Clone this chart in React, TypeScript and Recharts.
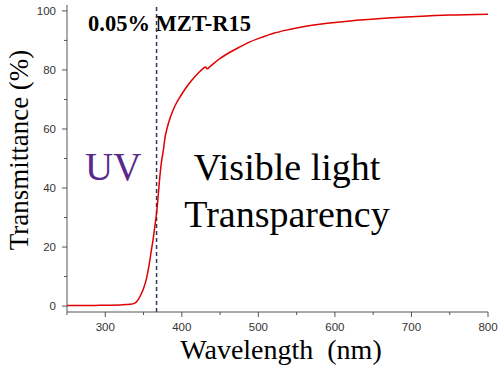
import { LineChart, Line, XAxis, YAxis, ReferenceLine } from "recharts";

const wavelength = [
  250, 280, 300, 320, 333, 338, 342, 346, 350, 354, 357, 360, 363, 365, 367,
  369, 371, 373, 376, 378, 381, 385, 391, 398, 405, 413, 421, 428, 431, 433,
  437, 450, 463, 476, 489, 505, 520, 535, 555, 580, 620, 660, 707, 750, 800,
];
const transmittance = [
  0.2, 0.2, 0.3, 0.4, 0.6, 0.9, 1.8, 3.6, 6.0, 9.5, 13.5, 18.5, 23.5, 27.5,
  31.5, 37, 43, 48, 53, 57, 60.5, 64, 67.8, 71, 73.8, 76.5, 78.8, 80.5, 81,
  80.4, 81.2, 83.9, 86, 87.8, 89.5, 91.1, 92.4, 93.4, 94.5, 95.5, 96.6, 97.4,
  98.1, 98.6, 98.9,
];
const xTicks = [250, 300, 350, 400, 450, 500, 550, 600, 650, 700, 750, 800];
const yTicks = [0, 10, 20, 30, 40, 50, 60, 70, 80, 90, 100];
const bandEdge = 367;

const data = wavelength.map((w, i) => ({ w, t: transmittance[i] }));

const axisColor = "#555";
const serif = '"Liberation Serif", "Times New Roman", serif';
const sans = '"Liberation Sans", Arial, sans-serif';

function XTick(props: any) {
  const { x, y, payload } = props;
  const major = payload.value % 100 === 0;
  return (
    <g>
      <line x1={x} y1={y} x2={x} y2={y + (major ? 5 : 3)} stroke={axisColor} />
      {major && payload.value !== 250 && (
        <text x={x} y={y + 19} textAnchor="middle" fontSize={11.5} fill="#333" style={{ fontFamily: sans }}>
          {payload.value}
        </text>
      )}
    </g>
  );
}

function YTick(props: any) {
  const { x, y, payload } = props;
  const major = payload.value % 20 === 0;
  return (
    <g>
      <line x1={x - (major ? 5 : 3)} y1={y} x2={x} y2={y} stroke={axisColor} />
      {major && (
        <text x={x - 11} y={y + 4} textAnchor="end" fontSize={11.5} fill="#333" style={{ fontFamily: sans }}>
          {payload.value}
        </text>
      )}
    </g>
  );
}

export default function App() {
  return (
    <div style={{ position: "absolute", left: 0, top: 0, background: "#fff" }}>
      <LineChart
        width={500}
        height={366}
        data={data}
        margin={{ top: 5, right: 12, bottom: 0, left: 0 }}
      >
        <XAxis
          dataKey="w"
          type="number"
          domain={[250, 800]}
          ticks={xTicks}
          interval={0}
          height={54}
          tickSize={0}
          tickMargin={0}
          tickLine={false}
          tick={<XTick />}
          axisLine={{ stroke: axisColor }}
        />
        <XAxis
          xAxisId="top"
          orientation="top"
          type="number"
          domain={[250, 800]}
          height={0}
          tick={false}
          tickLine={false}
          axisLine={{ stroke: axisColor }}
        />
        <YAxis
          type="number"
          domain={[-2, 102]}
          ticks={yTicks}
          interval={0}
          width={67}
          tickSize={0}
          tickMargin={0}
          tickLine={false}
          tick={<YTick />}
          axisLine={{ stroke: axisColor }}
        />
        <YAxis
          yAxisId="right"
          orientation="right"
          type="number"
          domain={[-2, 102]}
          width={0}
          tick={false}
          tickLine={false}
          axisLine={{ stroke: axisColor }}
        />
        <ReferenceLine
          x={bandEdge}
          stroke="#2b3a5c"
          strokeWidth={1.5}
          strokeDasharray="4 3"
        />
        <Line
          dataKey="t"
          type="monotone"
          stroke="#e00000"
          strokeWidth={1.5}
          dot={false}
          isAnimationActive={false}
        />
        <text x={88} y={30.5} fontWeight="bold" fontSize={22.5} fill="#000" style={{ fontFamily: serif }}>
          0.05% MZT-R15
        </text>
        <text x={85} y={179.5} fontSize={39} fill="#5a2a8a" style={{ fontFamily: serif }}>
          UV
        </text>
        <text x={287} y={179.5} textAnchor="middle" fontSize={38} fill="#000" style={{ fontFamily: serif }}>
          Visible light
        </text>
        <text x={287} y={226.5} textAnchor="middle" fontSize={38} fill="#000" style={{ fontFamily: serif }}>
          Transparency
        </text>
        <text
          x={281}
          y={358.5}
          textAnchor="middle"
          fontSize={28}
          fill="#000"
          style={{ fontFamily: serif, whiteSpace: "pre" }}
        >
          {"Wavelength  (nm)"}
        </text>
        <text
          x={28}
          y={150}
          textAnchor="middle"
          fontSize={27}
          fill="#000"
          transform="rotate(-90 28 150)"
          style={{ fontFamily: serif }}
        >
          Transmittance (%)
        </text>
      </LineChart>
    </div>
  );
}
